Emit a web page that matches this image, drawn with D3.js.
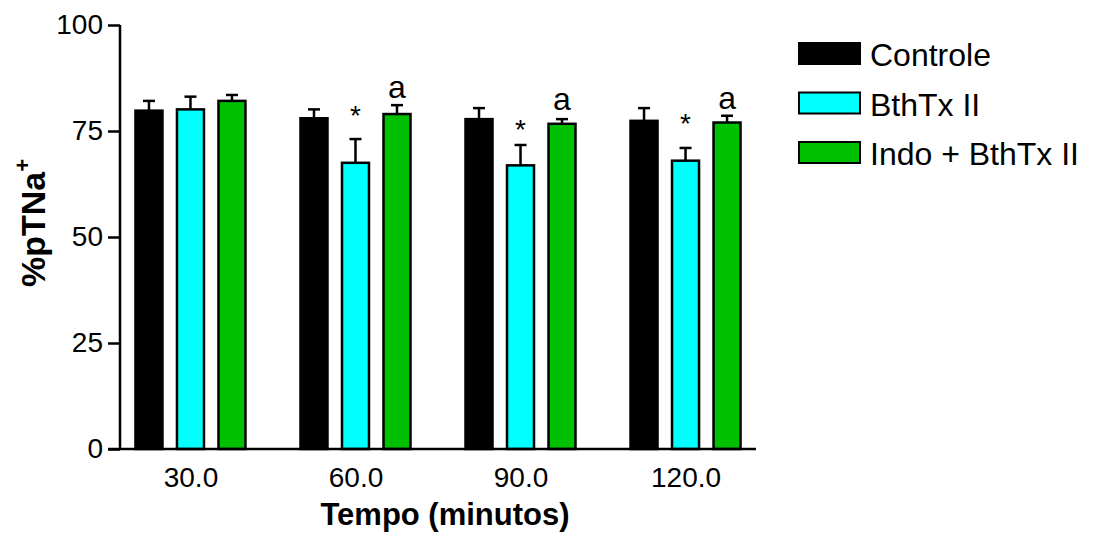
<!DOCTYPE html>
<html>
<head>
<meta charset="utf-8">
<script src="https://cdn.jsdelivr.net/npm/d3@7"></script>
<style>
  body { margin: 0; background: #fff; }
  text { font-family: Arial, "Liberation Sans", sans-serif; }
</style>
</head>
<body>
<div id="wrapper"></div>
<script>
// data
const times = ["30.0", "60.0", "90.0", "120.0"]
const series = ["Controle", "BthTx II", "Indo + BthTx II"]
const colors = ["#000000", "#00ffff", "#00c000"]
const controleMean = [79.8, 78.0, 77.8, 77.4]
const controleSem = [2.3, 2.1, 2.6, 3.0]
const bthMean = [80.1, 67.5, 66.9, 68.0]
const bthSem = [3.0, 5.6, 4.8, 3.0]
const indoMean = [82.1, 79.0, 76.7, 77.0]
const indoSem = [1.4, 2.1, 1.1, 1.6]
const yTicks = [0, 25, 50, 75, 100]
// "*" marks over BthTx II, "a" over Indo + BthTx II (level in y units)
const starLevel = [null, 80.2, 76.9, 78.3]
const letterLevel = [null, 82.8, 79.9, 80.1]

const means = [controleMean, bthMean, indoMean]
const sems = [controleSem, bthSem, indoSem]

const dataset = []
times.forEach((t, i) => {
  series.forEach((s, j) => {
    dataset.push({ time: t, series: s, idx: j, mean: means[j][i], sem: sems[j][i] })
  })
})

const width = 1098
const height = 539

const wrapper = d3.select("#wrapper")
  .append("svg")
    .attr("width", width)
    .attr("height", height)

// scales
const xScale = d3.scalePoint()
  .domain(times)
  .range([120, 756])
  .padding(0.427)

const offsetScale = d3.scalePoint()
  .domain(series)
  .range([-41.5, 41.5])

const barWidth = 27

const yScale = d3.scaleLinear()
  .domain([0, 100])
  .range([449, 25])

// bars
const groups = wrapper.append("g")
  .selectAll("g")
  .data(dataset)
  .enter().append("g")
    .attr("transform", d => `translate(${xScale(d.time) + offsetScale(d.series)},0)`)

groups.append("line")
    .attr("x1", 0).attr("x2", 0)
    .attr("y1", d => yScale(d.mean))
    .attr("y2", d => yScale(d.mean + d.sem))
    .attr("stroke", "#000")
    .attr("stroke-width", 2.5)

groups.append("line")
    .attr("x1", -6).attr("x2", 6)
    .attr("y1", d => yScale(d.mean + d.sem))
    .attr("y2", d => yScale(d.mean + d.sem))
    .attr("stroke", "#000")
    .attr("stroke-width", 2.5)

groups.append("rect")
    .attr("x", -barWidth / 2)
    .attr("width", barWidth)
    .attr("y", d => yScale(d.mean))
    .attr("height", d => yScale(0) - yScale(d.mean))
    .attr("fill", d => colors[d.idx])
    .attr("stroke", "#000")
    .attr("stroke-width", 2.5)

// significance marks
times.forEach((t, i) => {
  if (starLevel[i] != null) {
    wrapper.append("text")
      .attr("x", xScale(t) + offsetScale(series[1]))
      .attr("y", yScale(starLevel[i]) + 16)
      .attr("text-anchor", "middle")
      .style("font-size", "28px")
      .text("*")
  }
  if (letterLevel[i] != null) {
    wrapper.append("text")
      .attr("x", xScale(t) + offsetScale(series[2]))
      .attr("y", yScale(letterLevel[i]))
      .attr("text-anchor", "middle")
      .style("font-size", "32px")
      .text("a")
  }
})

// axes
const yAxis = wrapper.append("g")
  .attr("transform", "translate(120,0)")
  .call(d3.axisLeft(yScale).tickValues(yTicks).tickSize(12).tickPadding(5))
yAxis.select(".domain").attr("d", `M0,${yScale(100)}V${yScale(0)}`)

const xAxis = wrapper.append("g")
  .attr("transform", `translate(0,${yScale(0)})`)
  .call(d3.axisBottom(xScale).tickSize(0).tickPadding(13))
xAxis.select(".domain").attr("d", "M108,0H756")

wrapper.selectAll(".domain, .tick line")
  .attr("stroke", "#000")
  .attr("stroke-width", 2.5)
wrapper.selectAll(".tick text")
  .style("font-size", "28px")
  .style("font-family", "Arial, 'Liberation Sans', sans-serif")
  .attr("fill", "#000")
xAxis.selectAll(".tick text").attr("dy", "0.9em")

wrapper.append("text")
  .attr("x", 445)
  .attr("y", 525)
  .attr("text-anchor", "middle")
  .style("font-size", "31px")
  .style("font-weight", "bold")
  .text("Tempo (minutos)")

const yLabel = wrapper.append("text")
  .attr("transform", "translate(45,287) rotate(-90)")
  .style("font-size", "34px")
  .style("font-weight", "bold")
yLabel.append("tspan").text("%pTNa")
yLabel.append("tspan")
  .attr("dy", -15)
  .style("font-size", "22px")
  .text("+")

// legend
const legend = wrapper.append("g")
  .selectAll("g")
  .data(series)
  .enter().append("g")
    .attr("transform", (d, i) => `translate(799,${43 + i * 49.5})`)

legend.append("rect")
    .attr("width", 61)
    .attr("height", 21)
    .attr("fill", (d, i) => colors[i])
    .attr("stroke", "#000")
    .attr("stroke-width", 2)

legend.append("text")
    .attr("x", 71)
    .attr("y", 23)
    .style("font-size", "32px")
    .text(d => d)
</script>
</body>
</html>
